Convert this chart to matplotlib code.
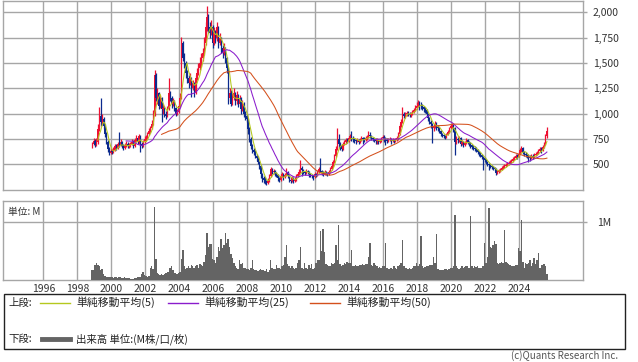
import numpy as np
import matplotlib
matplotlib.use("Agg")
import matplotlib.pyplot as plt
from matplotlib.lines import Line2D
from matplotlib.patches import Rectangle
import pandas as pd

plt.rcParams['font.family'] = ['Noto Sans CJK JP', 'DejaVu Sans']

start_month = "1998-11-01"

close = [
    700, 730,
    690, 720, 850, 980, 920, 950, 880, 800, 720, 650, 610, 630,          # 1999
    620, 640, 680, 660, 700, 690, 720, 680, 660, 690, 700, 680,          # 2000
    690, 700, 720, 680, 740, 760, 720, 780, 700, 680, 720, 750,          # 2001
    760, 800, 830, 860, 900, 1000, 1380, 1150, 1200, 1080, 1150, 1050,  # 2002
    1050, 1000, 980, 1050, 1200, 1150, 1100, 1120, 1060, 1000, 1020, 1080,
    1150, 1700, 1550, 1500, 1400, 1350, 1300, 1350, 1250, 1300, 1200, 1350,
    1400, 1450, 1500, 1550, 1600, 1700, 1850, 1950, 1850, 1800, 1850, 1700,
    1800, 1750, 1850, 1700, 1750, 1650, 1600, 1650, 1550, 1450, 1150, 1200,
    1100, 1150, 1200, 1120, 1180, 1100, 1150, 1050, 1100, 1000, 980, 950,
    850, 750, 680, 640, 620, 580, 560, 520, 480, 400, 360, 350,          # 2008
    330, 320, 340, 380, 450, 420, 430, 400, 390, 360, 350, 380,
    400, 370, 390, 420, 380, 350, 340, 360, 340, 350, 380, 400,
    420, 460, 440, 420, 410, 430, 420, 400, 390, 380, 370, 400,
    390, 420, 450, 430, 410, 400, 420, 410, 400, 420, 450, 480,          # 2012
    520, 580, 650, 750, 700, 680, 650, 700, 720, 740, 730, 760,
    780, 760, 750, 740, 730, 740, 720, 740, 760, 750, 740, 760,
    770, 790, 780, 760, 750, 740, 730, 740, 720, 730, 760, 770,
    760, 740, 730, 740, 750, 730, 740, 730, 740, 760, 800, 880,          # 2016
    920, 1000, 980, 1000, 1010, 1000, 990, 1000, 1020, 1040, 1060, 1080,
    1100, 1090, 1080, 1070, 1050, 1040, 1000, 960, 920, 900, 860, 880,
    900, 870, 860, 830, 800, 790, 780, 770, 790, 820, 860, 880,
    890, 860, 720, 750, 740, 760, 700, 720, 690, 710, 740, 720,          # 2020
    700, 690, 670, 660, 650, 640, 620, 600, 590, 570, 560, 540,
    520, 500, 490, 480, 470, 460, 450, 410, 420, 440, 440, 460,
    470, 480, 490, 500, 510, 520, 530, 550, 560, 580, 570, 600,
    640, 660, 620, 600, 590, 580, 570, 560, 580, 570, 590, 600,          # 2024
    610, 630, 650, 640, 670, 700, 780, 830,
]
first_open = 680

high = [
    720, 760,
    750, 760, 900, 1070, 1150, 1000, 970, 900, 820, 740, 670, 660,
    650, 670, 700, 700, 720, 820, 750, 730, 700, 710, 730, 720,
    710, 720, 750, 740, 760, 790, 770, 800, 790, 720, 740, 780,
    790, 820, 860, 880, 940, 1040, 1430, 1400, 1250, 1210, 1180, 1160,
    1100, 1080, 1030, 1080, 1350, 1220, 1170, 1150, 1130, 1070, 1050, 1100,
    1200, 1760, 1720, 1600, 1520, 1430, 1380, 1400, 1360, 1330, 1310, 1380,
    1450, 1500, 1560, 1600, 1650, 1760, 1900, 2060, 1980, 1900, 1920, 1870,
    1850, 1830, 1900, 1860, 1800, 1760, 1680, 1700, 1660, 1560, 1460, 1250,
    1230, 1200, 1250, 1210, 1220, 1190, 1180, 1160, 1130, 1110, 1030, 1000,
    960, 870, 770, 700, 660, 640, 600, 580, 530, 490, 410, 380,
    370, 350, 360, 400, 470, 460, 450, 440, 420, 400, 370, 400,
    420, 410, 410, 460, 430, 390, 370, 380, 370, 370, 400, 420,
    450, 540, 480, 450, 430, 450, 440, 430, 410, 400, 390, 420,
    410, 440, 470, 560, 440, 430, 440, 430, 420, 440, 470, 500,
    540, 600, 680, 860, 800, 720, 700, 720, 740, 760, 760, 780,
    800, 830, 780, 760, 750, 760, 750, 760, 780, 770, 770, 780,
    790, 830, 820, 790, 770, 760, 760, 760, 750, 750, 770, 790,
    790, 770, 760, 760, 770, 760, 760, 750, 760, 780, 820, 900,
    950, 1070, 1020, 1020, 1030, 1030, 1020, 1020, 1040, 1060, 1090, 1110,
    1135, 1120, 1110, 1100, 1080, 1070, 1050, 1010, 970, 940, 910, 900,
    930, 920, 890, 870, 840, 810, 800, 790, 810, 840, 870, 900,
    910, 900, 870, 780, 770, 780, 770, 740, 730, 730, 760, 750,
    730, 720, 700, 690, 680, 670, 650, 630, 620, 600, 580, 570,
    550, 530, 510, 500, 490, 480, 470, 460, 440, 450, 460, 480,
    490, 500, 510, 520, 530, 540, 550, 570, 580, 600, 600, 620,
    660, 680, 670, 630, 620, 600, 600, 590, 600, 600, 610, 620,
    630, 650, 670, 670, 690, 720, 800, 870,
]

low = [
    660, 690,
    670, 680, 700, 830, 880, 890, 850, 770, 700, 620, 590, 600,
    600, 610, 630, 640, 650, 670, 680, 660, 640, 650, 670, 660,
    660, 670, 690, 660, 670, 720, 700, 700, 620, 660, 670, 710,
    730, 750, 790, 810, 850, 890, 980, 1120, 1100, 1050, 1060, 920,
    1000, 970, 950, 970, 1040, 1120, 1060, 1080, 1030, 980, 985, 1010,
    1070, 1140, 1520, 1450, 1350, 1300, 1250, 1280, 1160, 1230, 1160, 1190,
    1330, 1380, 1430, 1460, 1520, 1580, 1680, 1820, 1800, 1750, 1780, 1650,
    1680, 1700, 1720, 1650, 1680, 1600, 1550, 1580, 1500, 1400, 1100, 1120,
    1080, 1090, 1130, 1090, 1100, 1070, 1090, 1000, 1030, 970, 940, 920,
    800, 720, 650, 610, 590, 560, 530, 500, 450, 360, 330, 320,
    310, 295, 310, 330, 370, 400, 400, 380, 370, 340, 330, 340,
    370, 350, 360, 380, 360, 330, 320, 330, 320, 330, 340, 370,
    390, 410, 380, 400, 390, 400, 400, 370, 370, 360, 350, 360,
    370, 380, 410, 420, 390, 380, 390, 390, 380, 390, 410, 440,
    470, 510, 570, 640, 660, 640, 630, 640, 690, 700, 710, 720,
    740, 730, 720, 710, 700, 720, 700, 710, 730, 700, 720, 730,
    740, 760, 760, 740, 730, 720, 700, 700, 700, 710, 720, 740,
    720, 690, 710, 720, 730, 700, 720, 710, 720, 730, 740, 790,
    870, 910, 960, 960, 980, 980, 970, 970, 990, 1010, 1030, 1050,
    1070, 1040, 1050, 1040, 1020, 1010, 970, 930, 900, 860, 710, 830,
    860, 840, 830, 810, 780, 770, 760, 750, 760, 790, 810, 850,
    860, 820, 590, 700, 710, 720, 680, 690, 670, 680, 700, 700,
    680, 660, 650, 640, 630, 620, 600, 580, 570, 550, 440, 520,
    500, 480, 440, 460, 450, 440, 430, 395, 400, 410, 420, 440,
    450, 460, 470, 480, 490, 500, 510, 520, 540, 550, 550, 570,
    600, 620, 600, 580, 570, 560, 520, 530, 550, 550, 560, 580,
    590, 600, 620, 610, 630, 660, 690, 760,
]

volume_m = [
    0.17, 0.17,
    0.27, 0.30, 0.26, 0.24, 0.18, 0.19, 0.10, 0.07, 0.06, 0.05, 0.06, 0.05,
    0.05, 0.04, 0.05, 0.05, 0.04, 0.05, 0.05, 0.04, 0.04, 0.05, 0.04, 0.04,
    0.04, 0.03, 0.03, 0.03, 0.04, 0.04, 0.05, 0.06, 0.06, 0.10, 0.15, 0.09,
    0.07, 0.06, 0.07, 0.22, 0.25, 0.20, 1.26, 0.36, 0.12, 0.10, 0.09, 0.10,
    0.09, 0.10, 0.12, 0.15, 0.14, 0.22, 0.25, 0.18, 0.13, 0.12, 0.11, 0.12,
    0.14, 0.36, 0.52, 0.25, 0.20, 0.22, 0.24, 0.21, 0.26, 0.25, 0.22, 0.24,
    0.26, 0.21, 0.28, 0.27, 0.24, 0.32, 0.44, 0.81, 0.58, 0.62, 0.62, 0.36,
    0.35, 0.30, 0.40, 0.58, 0.50, 0.72, 0.55, 0.60, 0.81, 0.64, 0.72, 0.57,
    0.45, 0.38, 0.30, 0.25, 0.22, 0.20, 0.35, 0.28, 0.30, 0.22, 0.21, 0.20,
    0.20, 0.18, 0.22, 0.35, 0.20, 0.18, 0.17, 0.16, 0.17, 0.20, 0.18, 0.17,
    0.16, 0.20, 0.15, 0.17, 0.35, 0.22, 0.20, 0.19, 0.26, 0.22, 0.21, 0.20,
    0.24, 0.26, 0.40, 0.60, 0.28, 0.25, 0.22, 0.24, 0.22, 0.20, 0.22, 0.30,
    0.35, 0.57, 0.22, 0.20, 0.30, 0.22, 0.20, 0.26, 0.21, 0.28, 0.20, 0.22,
    0.30, 0.35, 0.35, 0.85, 0.50, 0.89, 0.48, 0.28, 0.26, 0.25, 0.24, 0.30,
    0.28, 0.30, 0.60, 0.35, 0.96, 0.28, 0.25, 0.27, 0.30, 0.28, 0.32, 0.30,
    0.30, 0.53, 0.25, 0.24, 0.26, 0.25, 0.24, 0.27, 0.26, 0.28, 0.27, 0.28,
    0.28, 0.40, 0.64, 0.27, 0.25, 0.30, 0.26, 0.24, 0.22, 0.23, 0.22, 0.24,
    0.24, 0.64, 0.22, 0.20, 0.19, 0.22, 0.20, 0.25, 0.22, 0.20, 0.24, 0.26,
    0.30, 0.70, 0.24, 0.22, 0.21, 0.20, 0.22, 0.20, 0.21, 0.25, 0.24, 0.30,
    0.25, 0.28, 0.77, 0.24, 0.22, 0.23, 0.24, 0.25, 0.26, 0.27, 0.26, 0.40,
    0.30, 0.80, 0.20, 0.18, 0.17, 0.18, 0.17, 0.19, 0.20, 0.18, 0.20, 0.22,
    0.22, 0.25, 1.13, 0.24, 0.22, 0.20, 0.22, 0.24, 0.21, 0.23, 0.24, 0.25,
    0.22, 1.10, 0.24, 0.22, 0.24, 0.23, 0.25, 0.22, 0.21, 0.22, 0.25, 0.64,
    0.30, 0.40, 1.25, 0.58, 0.55, 0.60, 0.67, 0.63, 0.30, 0.28, 0.30, 0.32,
    0.30, 0.87, 0.32, 0.30, 0.28, 0.27, 0.25, 0.24, 0.25, 0.26, 0.27, 0.55,
    0.50, 1.04, 0.32, 0.22, 0.30, 0.28, 0.30, 0.35, 0.25, 0.30, 0.38, 0.28,
    0.35, 0.47, 0.22, 0.26, 0.26, 0.28, 0.25, 0.10,
]

year_ticks = list(range(1996, 2025, 2))
price_ticks = [500, 750, 1000, 1250, 1500, 1750, 2000]
ma_periods = [5, 25, 50]
ma_labels = ["単純移動平均(5)", "単純移動平均(25)", "単純移動平均(50)"]
ma_colors = ["#b5c81e", "#8a1ccc", "#d4501c"]

# ---------------------------------------------------------------
n = len(close)
dates = pd.date_range(start_month, periods=n, freq="MS")
x = dates.year + (dates.month - 1 + 0.5) / 12.0
c = np.array(close, float)
o = np.concatenate([[first_open], c[:-1]])
h = np.maximum(np.array(high[:n], float), np.maximum(o, c))
l = np.minimum(np.array(low[:n], float), np.minimum(o, c))
vol = np.array(volume_m[:n], float)

UP = "#ee1133"
DN = "#0b2a8e"
GRID = "#a6a6a6"

W, H = 638, 362
fig = plt.figure(figsize=(W / 100, H / 100), dpi=100)

def fx(px):
    return px / W

def fy(py):
    return 1 - py / H

L, R = 3.3, 582.7
ax1 = fig.add_axes([fx(L), fy(190), fx(R) - fx(L), fy(1) - fy(190)])
ax2 = fig.add_axes([fx(L), fy(280.3), fx(R) - fx(L), fy(201.3) - fy(280.3)])

xmin, xmax = 1993.647, 2027.73
for ax in (ax1, ax2):
    ax.set_xlim(xmin, xmax)
    ax.set_xticks(year_ticks)
    for s in ax.spines.values():
        s.set_color(GRID)
        s.set_linewidth(1.0)
    ax.grid(True, color=GRID, linewidth=1.0)
    ax.set_axisbelow(True)
    ax.set_facecolor("white")

# price panel
ax1.set_ylim(246.4, 2111.5)
ax1.set_yticks(price_ticks)
ax1.set_yticklabels([f"{v:,}" for v in price_ticks])
ax1.yaxis.tick_right()
ax1.tick_params(axis="y", length=3.2, width=1, color=GRID, pad=4,
                labelsize=7.5, labelcolor="#333333")
ax1.tick_params(axis="x", length=0, labelbottom=False)

up = c >= o
cols = np.where(up, UP, DN)
ax1.vlines(x, l, h, colors=cols, linewidth=0.9, zorder=3)
body_lo = np.minimum(o, c)
body_h = np.maximum(np.abs(c - o), 4)
ax1.bar(x, body_h, bottom=body_lo, width=0.065, color=cols, linewidth=0, zorder=3)

s = pd.Series(c)
for p, col in zip(ma_periods, ma_colors):
    ma = s.rolling(p).mean()
    ax1.plot(x, ma, color=col, linewidth=0.75, zorder=4)

# volume panel
ax2.set_ylim(0, 1.362)
ax2.set_yticks([1.0])
ax2.set_yticklabels(["1M"])
ax2.yaxis.tick_right()
ax2.tick_params(axis="y", length=3.2, width=1, color=GRID, pad=7,
                labelsize=7.5, labelcolor="#333333")
ax2.bar(x, vol, width=1 / 12, color="#646464", linewidth=0, zorder=3)
ax2.set_xticklabels([str(y) for y in year_ticks])
ax2.tick_params(axis="x", length=0, pad=2.5, labelsize=7.5, labelcolor="#333333")
ax2.text(0.008, 0.87, "単位: M", transform=ax2.transAxes, fontsize=7,
         color="#333333", va="center", ha="left")

# legend box
fig.add_artist(Rectangle((fx(3.5), fy(348.5)), fx(625) - fx(3.5), fy(294) - fy(348.5),
                         transform=fig.transFigure, fill=False,
                         edgecolor="#222222", linewidth=1.0))
row1, row2 = 302.5, 339
fig.text(fx(8), fy(row1), "上段:", fontsize=7.5, va="center", ha="left", color="#222222")
seg = [(40, 70, 76), (168, 198, 204), (310, 340, 346)]
for (a, b, t), lab, col in zip(seg, ma_labels, ma_colors):
    fig.add_artist(Line2D([fx(a), fx(b)], [fy(row1), fy(row1)], color=col,
                          linewidth=1.0, transform=fig.transFigure))
    fig.text(fx(t), fy(row1), lab, fontsize=7.8, va="center", ha="left", color="#222222")
fig.text(fx(8), fy(row2), "下段:", fontsize=7.5, va="center", ha="left", color="#222222")
fig.add_artist(Line2D([fx(42), fx(70)], [fy(row2), fy(row2)], color="#646464",
                      linewidth=3.5, transform=fig.transFigure))
fig.text(fx(76), fy(row2), "出来高 単位:(M株/口/枚)", fontsize=7.5, va="center",
         ha="left", color="#222222")
fig.text(fx(618), fy(356), "(c)Quants Research Inc.", fontsize=7, va="center",
         ha="right", color="#555555")

fig.savefig("out.png", dpi=100, facecolor="white")
